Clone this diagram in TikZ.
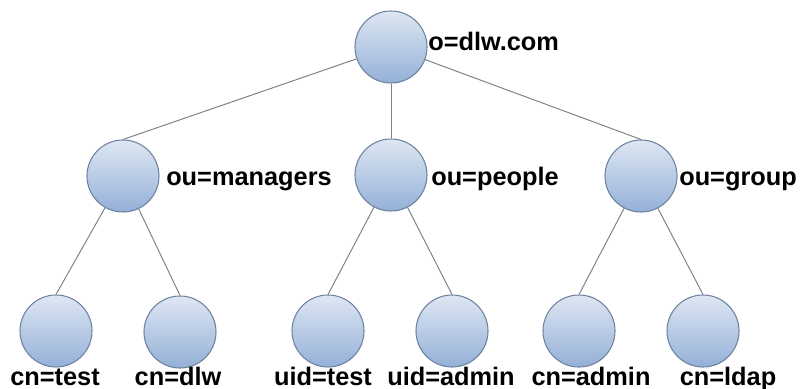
\documentclass[tikz,border=0pt]{standalone}
\usepackage{fontspec}
\setmainfont{Liberation Sans}
\definecolor{ballTop}{RGB}{222,231,243}
\definecolor{ballBot}{RGB}{148,176,215}
\definecolor{ballRim}{RGB}{110,130,160}
\definecolor{linkGray}{RGB}{125,132,140}
\begin{document}
\begin{tikzpicture}[x=0.75pt,y=-0.75pt,
        entry/.style={circle,draw=ballRim,line width=0.8pt,
            top color=ballTop,bottom color=ballBot,
            minimum size=54pt,inner sep=0pt},
        dn/.style={font=\fontsize{19}{22}\selectfont\bfseries,inner sep=0pt},
        link/.style={draw=linkGray,line width=0.75pt}]
                \useasboundingbox (0,0) rectangle (803,389);
                \node[entry] (dlw) at (391,47) {};
                \node[entry] (managers) at (123,176) {};
                \node[entry] (people) at (391,175) {};
                \node[entry] (group) at (641,176) {};
                \node[entry] (cntest) at (56,331) {};
                \node[entry] (cndlw) at (180,332) {};
                \node[entry] (uidtest) at (328,331) {};
                \node[entry] (uidadmin) at (452,331) {};
                \node[entry] (cnadmin) at (579,331) {};
                \node[entry] (cnldap) at (703,331) {};
                \draw[link] (dlw) -- (managers.north);
                \draw[link] (dlw) -- (people.north);
                \draw[link] (dlw) -- (group.north);
                \draw[link] (managers) -- (cntest.north);
                \draw[link] (managers) -- (cndlw.north);
                \draw[link] (people) -- (uidtest.north);
                \draw[link] (people) -- (uidadmin.north);
                \draw[link] (group) -- (cnadmin.north);
                \draw[link] (group) -- (cnldap.north);
                \node[dn,anchor=base west] (dlwText) at (428,50) {o=dlw.com};
                \node[dn,anchor=base west] (managersText) at (166,185) {ou=managers};
                \node[dn,anchor=base west] (peopleText) at (431,185) {ou=people};
                \node[dn,anchor=base west] (groupText) at (679,185) {ou=group};
                \node[dn,anchor=base] (cntestText) at (55,385) {cn=test};
                \node[dn,anchor=base] (cndlwText) at (178,385) {cn=dlw};
                \node[dn,anchor=base] (uidtestText) at (323,385) {uid=test};
                \node[dn,anchor=base] (uidadminText) at (451,385) {uid=admin};
                \node[dn,anchor=base] (cnadminText) at (591,385) {cn=admin};
                \node[dn,anchor=base] (cnldapText) at (728,385) {cn=ldap};
            \end{tikzpicture}
\end{document}
